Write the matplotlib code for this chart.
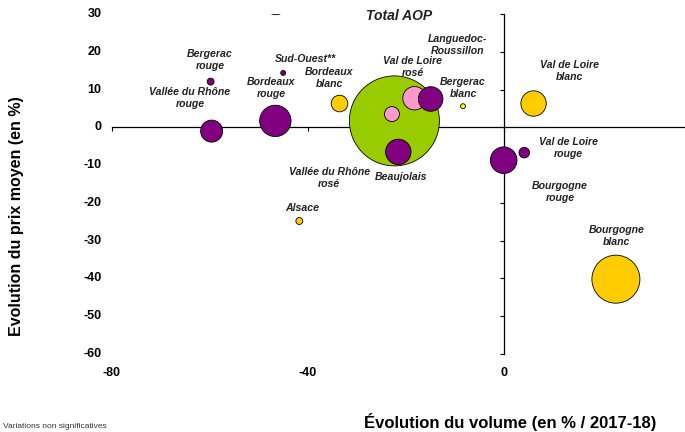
import matplotlib
matplotlib.use("Agg")
import matplotlib.pyplot as plt
import matplotlib.transforms as mtransforms
import numpy as np

plt.rcParams['font.family'] = ['Liberation Sans', 'DejaVu Sans']

# bubbles: volume change (x), price change (y), relative weight (area)
names = ["Bergerac rouge", "Sud-Ouest**", "Vallée du Rhône rouge", "Bordeaux rouge",
         "Bordeaux blanc", "Alsace", "Hors cadre rosé", "Total AOP",
         "Vallée du Rhône rosé", "Val de Loire rosé", "Languedoc-Roussillon",
         "Beaujolais", "Bergerac blanc", "Val de Loire blanc", "Bourgogne rouge",
         "Val de Loire rouge", "Bourgogne blanc"]
vol_chg = [-59.8, -45.0, -59.6, -46.6, -33.5, -41.7, -46.5, -22.3,
           -22.8, -18.2, -14.9, -21.5, -8.3, 6.1, 0.0, 4.2, 22.9]
price_chg = [12.1, 14.4, -1.0, 1.7, 6.3, -24.8, 33.0, 1.7,
             3.5, 7.7, 7.5, -6.5, 5.6, 6.3, -8.7, -6.7, -40.2]
weight = [12, 6, 121, 246, 69, 12, 144, 2025,
          56, 137, 151, 161, 6, 161, 177, 28, 576]
colors = ["#800080", "#800080", "#800080", "#800080",
          "#FFCC00", "#FFCC00", "#FF99CC", "#99CC00",
          "#FF99CC", "#FF99CC", "#800080",
          "#800080", "#FFFF00", "#FFCC00", "#800080",
          "#800080", "#FFCC00"]

# text labels (data coordinates)
lbl_text = ["Bergerac\nrouge", "Sud-Ouest**", "Vallée du Rhône\nrouge", "Bordeaux\nrouge",
            "Bordeaux\nblanc", "Alsace", "Vallée du Rhône\nrosé", "Val de Loire\nrosé",
            "Languedoc-\nRoussillon", "Beaujolais", "Bergerac\nblanc", "Val de Loire\nblanc",
            "Bourgogne\nrouge", "Val de Loire\nrouge", "Bourgogne\nblanc"]
lbl_x = [-59.9, -40.5, -64.0, -47.4, -35.6, -41.1, -35.6, -18.6,
         -9.5, -21.0, -8.3, 13.5, 11.5, 13.3, 23.1]
lbl_y = [17.8, 18.1, 7.7, 10.4, 13.0, -21.4, -13.4, 16.0,
         21.8, -13.1, 10.4, 14.9, -17.1, -5.5, -28.8]

xticks = [-80, -40, 0]
yticks = [30, 20, 10, 0, -10, -20, -30, -40, -50, -60]

fig = plt.figure(figsize=(6.85, 4.32), dpi=100)
ax = fig.add_axes([0.163, 0.1806, 0.837, 0.787])

# radius in px ~ sqrt(weight)
sizes = [(2 * np.sqrt(w) * 0.72) ** 2 for w in weight]
ax.scatter(vol_chg, price_chg, s=sizes, c=colors, edgecolors="black",
           linewidths=0.6, zorder=3)

for t, x, y in zip(lbl_text, lbl_x, lbl_y):
    ax.text(x, y, t, fontsize=7.6, fontweight="bold", fontstyle="italic",
            ha="center", va="center", color="#222222", linespacing=1.3, zorder=4)

ax.text(-21.3, 29.6, "Total AOP", fontsize=10, fontweight="bold", fontstyle="italic",
        ha="center", va="center", color="#222222", zorder=4)

ax.set_xlim(-80, 37)
ax.set_ylim(-60, 30)

for s in ["top", "right"]:
    ax.spines[s].set_visible(False)
ax.spines["left"].set_position(("data", 0))
ax.spines["bottom"].set_position(("data", 0))
ax.spines["left"].set_linewidth(0.9)
ax.spines["bottom"].set_linewidth(0.9)
ax.spines["left"].set_zorder(1)
ax.spines["bottom"].set_zorder(1)

ax.set_xticks(xticks)
ax.set_yticks(yticks)
ax.tick_params(axis="both", direction="out", length=3, width=0.8,
               labelleft=False, labelbottom=False)

# tick labels kept at the left / bottom of the frame
ytr = mtransforms.blended_transform_factory(ax.transAxes, ax.transData)
for t in yticks:
    ax.text(-0.018, t, str(t), transform=ytr, ha="right", va="center",
            fontsize=9, fontweight="bold", clip_on=False)
xtr = mtransforms.blended_transform_factory(ax.transData, ax.transAxes)
for t in xticks:
    ax.text(t, -0.055, str(t), transform=xtr, ha="center", va="center",
            fontsize=9, fontweight="bold", clip_on=False)

fig.text(0.024, 0.5, "Evolution du prix moyen (en %)", rotation=90, ha="center",
         va="center", fontsize=11.5, fontweight="bold")
fig.text(0.745, 0.022, "Évolution du volume (en % / 2017-18)", ha="center",
         va="center", fontsize=12, fontweight="bold",
         family=["Liberation Sans Narrow", "Liberation Sans", "DejaVu Sans"])
fig.text(0.004, 0.004, "Variations non significatives", ha="left", va="bottom",
         fontsize=6, color="#333333")

fig.savefig("out.png", dpi=100)
